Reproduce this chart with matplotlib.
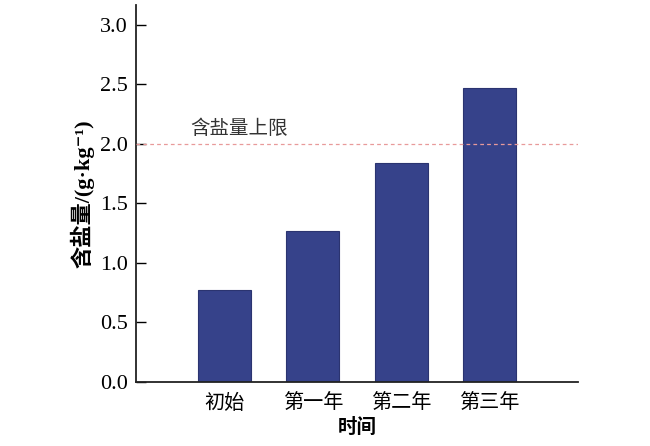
import matplotlib
matplotlib.use("Agg")
import matplotlib.pyplot as plt

categories = ["初始", "第一年", "第二年", "第三年"]
values = [0.77, 1.27, 1.84, 2.47]
limit_value = 2.0
limit_label = "含盐量上限"
y_ticks = [0.0, 0.5, 1.0, 1.5, 2.0, 2.5, 3.0]

plt.rcParams['font.family'] = ['Liberation Serif', 'Noto Sans CJK SC', 'DejaVu Sans']

fig = plt.figure(figsize=(6.5, 4.46), dpi=100)
ax = fig.add_axes([136/650, 1-382/446, (578-136)/650, (382-5)/446])

x = list(range(len(categories)))
ax.bar(x, values, width=0.6, color='#36428A', edgecolor='#2B3470', linewidth=0.8, zorder=2)
ax.axhline(limit_value, color='#E89A9A', linestyle=(0, (3, 2.5)), linewidth=0.9, zorder=3)
ax.text(-0.39, 2.13, limit_label, fontsize=14, color='#333333', va='center', ha='left',
        family=['Noto Sans CJK SC'])

ax.set_xlim(-1, 4)
ax.set_ylim(0, 3.168)
ax.set_xticks(x)
ax.set_xticklabels(categories, family=['Noto Sans CJK SC'], fontsize=14.5)
ax.set_yticks(y_ticks)
ax.set_yticklabels([f"{v:.1f}" for v in y_ticks], fontsize=16)
ax.tick_params(axis='y', direction='in', length=7, width=1.0, pad=6)
ax.tick_params(axis='x', length=0, pad=8)

for s in ['top', 'right']:
    ax.spines[s].set_visible(False)
for s in ['left', 'bottom']:
    ax.spines[s].set_linewidth(1.3)
    ax.spines[s].set_color('#222222')

ax.set_xlabel("时间", family=['Noto Sans CJK SC'], fontweight='bold', fontsize=14, labelpad=3)
ax.set_ylabel("含盐量/(g·kg⁻¹)", fontsize=16, fontweight='bold', labelpad=4,
              family=['Liberation Serif', 'Noto Sans CJK SC', 'DejaVu Sans'])

fig.savefig("out.png", dpi=100)
